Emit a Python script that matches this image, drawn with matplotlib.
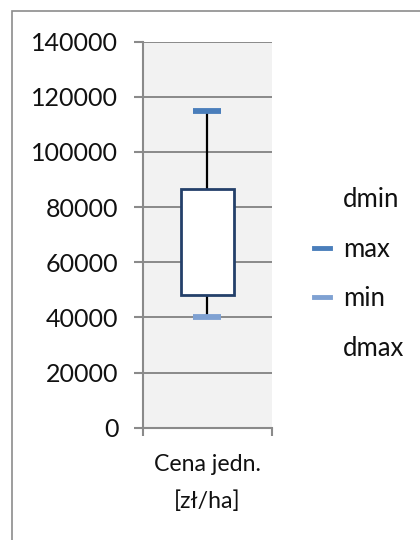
import matplotlib
matplotlib.use("Agg")
import matplotlib.pyplot as plt
from matplotlib.lines import Line2D
from matplotlib.patches import Rectangle

categories = ["Cena jedn.\n[zł/ha]"]
q1_vals = [48000]
q3_vals = [86500]
max_vals = [115000]
min_vals = [40000]
y_ticks = [0, 20000, 40000, 60000, 80000, 100000, 120000, 140000]
legend_labels = ["dmin", "max", "min", "dmax"]

plt.rcParams['font.family'] = ['Lato', 'DejaVu Sans']
W, H = 420, 540
fig = plt.figure(figsize=(W/100, H/100), dpi=100)
fig.patch.set_facecolor('white')

# outer chart border
fig.add_artist(Rectangle((12/W, -0.1), 1.2, (H-11)/H + 0.1, transform=fig.transFigure,
                         fill=False, edgecolor='#8c8c8c', linewidth=1.2))

ax = fig.add_axes([142.7/W, 112.3/H, 129.6/W, 386/H])
ax.set_facecolor('#f2f2f2')
ax.set_xlim(0, len(categories))
ax.set_ylim(0, 140000)

grid_c = '#8a8a8a'
for s in ['top', 'right']:
    ax.spines[s].set_visible(False)
for s in ['left', 'bottom']:
    ax.spines[s].set_color(grid_c)
    ax.spines[s].set_linewidth(1.5)

ax.set_yticks(y_ticks)
ax.set_yticklabels([str(v) for v in y_ticks], fontsize=18, color='#111111')
ax.yaxis.grid(True, color=grid_c, linewidth=1.4)
ax.set_axisbelow(True)
ax.tick_params(axis='y', length=6.5, width=1.5, color=grid_c, pad=11)

ax.set_xticks(list(range(len(categories) + 1)))
ax.set_xticklabels([''] * (len(categories) + 1))
ax.tick_params(axis='x', which='major', length=6, width=1.5, color=grid_c, direction='out')
ax.set_xticks([i + 0.5 for i in range(len(categories))], minor=True)
ax.set_xticklabels(categories, minor=True, fontsize=16.7, color='#111111', linespacing=1.85)
ax.tick_params(axis='x', which='minor', length=0, pad=19)

xs = [i + 0.5 for i in range(len(categories))]
# whiskers
ax.vlines(xs, q3_vals, max_vals, color='black', linewidth=1.6, zorder=3)
ax.vlines(xs, min_vals, q1_vals, color='black', linewidth=1.6, zorder=3)
# box
heights = [b - a for a, b in zip(q1_vals, q3_vals)]
ax.bar(xs, heights, bottom=q1_vals, width=0.415, facecolor='white',
       edgecolor='#24406a', linewidth=2, zorder=4)
# max / min markers
ax.plot(xs, max_vals, linestyle='none', marker='_', markersize=19.5,
        markeredgewidth=4.2, color='#4a7ebb', zorder=5)
ax.plot(xs, min_vals, linestyle='none', marker='_', markersize=19.5,
        markeredgewidth=4.2, color='#7fa1d2', zorder=5)

handles = [
    Line2D([], [], color='none'),
    Line2D([], [], color='#4a7ebb', linewidth=3.5),
    Line2D([], [], color='#7fa1d2', linewidth=3.5),
    Line2D([], [], color='none'),
]
leg = fig.legend(handles, legend_labels, loc='center left',
                 bbox_to_anchor=(314/W, 1 - 274/H), frameon=False,
                 fontsize=18.5, handlelength=0.62, handletextpad=0.5,
                 labelspacing=0.97, borderaxespad=0, borderpad=0)
for t in leg.get_texts():
    t.set_color('#111111')

fig.savefig('out.png', dpi=100)
